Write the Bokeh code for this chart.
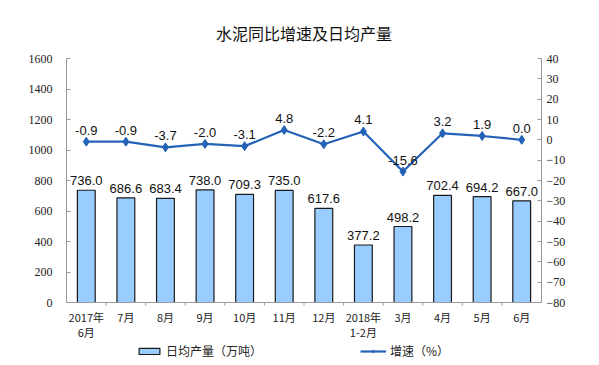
from bokeh.plotting import figure
from bokeh.models import (ColumnDataSource, Range1d, LinearAxis, FixedTicker,
                          Legend, LegendItem, FactorRange, Span)
from bokeh.core.properties import value
from bokeh.embed import file_html
from bokeh.resources import INLINE

months = ["2017年\n6月", "7月", "8月", "9月", "10月", "11月", "12月",
          "2018年\n1-2月", "3月", "4月", "5月", "6月"]
output = [736.0, 686.6, 683.4, 738.0, 709.3, 735.0, 617.6, 377.2, 498.2, 702.4, 694.2, 667.0]
growth = [-0.9, -0.9, -3.7, -2.0, -3.1, 4.8, -2.2, 4.1, -15.6, 3.2, 1.9, 0.0]
left_ticks = [0, 200, 400, 600, 800, 1000, 1200, 1400, 1600]
right_ticks = [40, 30, 20, 10, 0, -10, -20, -30, -40, -50, -60, -70, -80]

BAR_FILL = "#99CCFF"
LINE_COL = "#2462B8"
AXIS_COL = "#9a9a9a"
CJK = "Noto Sans CJK SC"

# plotting area: 244 px for the value axes, plus 60 px below zero for labels + legend
PLOT_H = 244
EXTRA_H = 60
L_MIN, L_MAX = 0, 1600
R_MIN, R_MAX = -80, 40
l_lo = L_MIN - (L_MAX - L_MIN) * EXTRA_H / PLOT_H
r_lo = R_MIN - (R_MAX - R_MIN) * EXTRA_H / PLOT_H

src = ColumnDataSource(dict(
    x=months, out=output, g=growth, zero=[0] * len(months),
    out_lbl=["%.1f" % v for v in output],
    g_lbl=["%.1f" % v for v in growth],
))

p = figure(frame_width=475, frame_height=PLOT_H + EXTRA_H,
           x_range=FactorRange(*months, range_padding=0),
           y_range=Range1d(l_lo, L_MAX), output_backend="svg", toolbar_location=None,
           min_border_left=66, min_border_right=50, min_border_top=58,
           min_border_bottom=2)
p.extra_y_ranges = {"rate": Range1d(r_lo, R_MAX)}
p.outline_line_color = None
p.xgrid.visible = False
p.ygrid.visible = False
p.xaxis.visible = False

p.title.text = "水泥同比增速及日均产量"
p.title.align = "center"
p.title.text_font = CJK
p.title.text_font_size = "16px"
p.title.text_font_style = "normal"
p.title.text_color = "#111111"
p.title.standoff = 28

bars = p.vbar(x="x", top="out", width=0.45, source=src, fill_color=BAR_FILL,
              line_color="#1a1a1a", line_width=1.2)
ln = p.line(x="x", y="g", source=src, y_range_name="rate", line_color=LINE_COL,
            line_width=2.2)
mk = p.scatter(x="x", y="g", source=src, y_range_name="rate", marker="diamond",
               size=9, fill_color=LINE_COL, line_color=LINE_COL)

p.text(x="x", y="out", text="out_lbl", source=src, text_align="center",
       text_baseline="bottom", y_offset=-5, text_font=value("Liberation Sans"),
       text_font_size="13px", text_color="#111111")
p.text(x="x", y="g", text="g_lbl", source=src, y_range_name="rate",
       text_align="center", text_baseline="bottom", y_offset=-7,
       text_font=value("Liberation Sans"), text_font_size="13px",
       text_color="#111111")

# category axis: baseline, boundary ticks and labels
p.add_layout(Span(location=0, dimension="width", line_color=AXIS_COL, line_width=1))
bounds = list(range(1, len(months)))
p.segment(x0=bounds, x1=bounds, y0=[0] * len(bounds), y1=[-20] * len(bounds),
          line_color=AXIS_COL, line_width=1)
p.text(x="x", y="zero", text="x", source=src, text_align="center",
       text_baseline="top", y_offset=6, text_line_height=0.98,
       text_font=value(CJK), text_font_size="11px", text_color="#222222")

def style_y(ax, standoff):
    ax.major_tick_in = 4
    ax.major_tick_out = 0
    ax.minor_tick_line_color = None
    ax.axis_line_color = AXIS_COL
    ax.major_tick_line_color = AXIS_COL
    ax.major_label_text_font = "Liberation Serif"
    ax.major_label_text_font_size = "12px"
    ax.major_label_text_color = "#222222"
    ax.major_label_standoff = standoff

ya = p.yaxis[0]
ya.ticker = FixedTicker(ticks=left_ticks)
ya.bounds = (L_MIN, L_MAX)
style_y(ya, 14)

ra = LinearAxis(y_range_name="rate", ticker=FixedTicker(ticks=right_ticks),
                bounds=(R_MIN, R_MAX))
style_y(ra, 5)
p.add_layout(ra, "right")

legend = Legend(items=[
    LegendItem(label="日均产量（万吨）", renderers=[bars]),
    LegendItem(label="增速（%）", renderers=[ln, mk]),
], location=(70, 3), orientation="horizontal", spacing=98, padding=0,
    margin=0, glyph_width=26, glyph_height=8, label_height=14,
    label_standoff=4, border_line_color=None, background_fill_alpha=0,
    label_text_font=CJK, label_text_font_size="12px", label_text_color="#222222")
p.add_layout(legend, "center")

open("out.html", "w").write(file_html(p, INLINE))
